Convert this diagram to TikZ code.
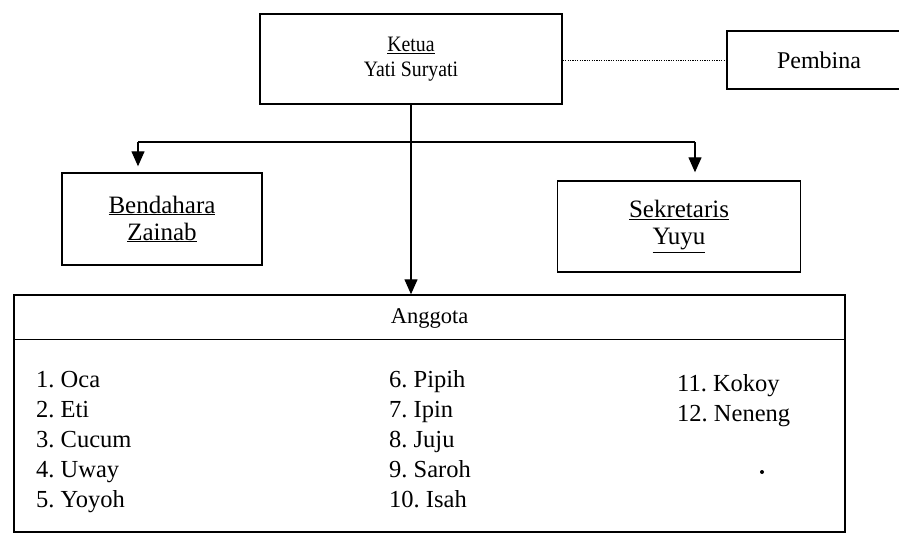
\documentclass[tikz,border=0pt]{standalone}
\usepackage{fontspec}
\setmainfont{Liberation Serif}
\newfontfamily\narrowserif{Liberation Serif}[FakeStretch=0.9]
\usetikzlibrary{arrows.meta}
\begin{document}
\frenchspacing
\begin{tikzpicture}[x=1pt,y=-1pt,
  box/.style={draw, line width=1.4pt, inner sep=0pt, align=center},
  lbl/.style={font=\fontsize{25}{27}\selectfont},
  item/.style={anchor=base west, inner sep=0pt, font=\fontsize{24.5}{27}\selectfont},
  arr/.style={line width=1.3pt, -{Triangle[width=13pt,length=15pt]}},
  link/.style={line width=1.3pt},
  dotline/.style={line width=0.8pt, dash pattern=on 1.2pt off 1.2pt}]
\useasboundingbox (0,0) rectangle (899,537);

\node[box, font=\narrowserif\fontsize{22}{25}\selectfont, minimum width=302pt, minimum height=90pt] (ketua) at (411,59) {\underline{Ketua}\\Yati Suryati};
\node[box, font=\fontsize{24}{27}\selectfont, minimum width=184pt, minimum height=58pt] (pembina) at (819,60) {Pembina};
\node[box, lbl, minimum width=200pt, minimum height=92pt] (bendahara) at (162,219) {\underline{Bendahara}\\\underline{Zainab}};
\node[box, lbl, minimum width=243pt, minimum height=91pt] (sekretaris) at (679,226.5) {\underline{Sekretaris}\\\underline{Yuyu}};
\node[box, minimum width=831pt, minimum height=237pt] (anggota) at (429.5,413.5) {};
\draw[link] ([yshift=-45pt]anggota.north west) -- ([yshift=-45pt]anggota.north east);
\node[font=\fontsize{22.5}{26}\selectfont] (anggotalbl) at (429.5,319) {Anggota};

\node[item] (m1) at (36,387) {1. Oca};
\node[item] (m2) at (36,417) {2. Eti};
\node[item] (m3) at (36,447) {3. Cucum};
\node[item] (m4) at (36,477) {4. Uway};
\node[item] (m5) at (36,507) {5. Yoyoh};
\node[item] (m6) at (389,387) {6. Pipih};
\node[item] (m7) at (389,417) {7. Ipin};
\node[item] (m8) at (389,447) {8. Juju};
\node[item] (m9) at (389,477) {9. Saroh};
\node[item] (m10) at (389,507) {10. Isah};
\node[item] (m11) at (677,391) {11. Kokoy};
\node[item] (m12) at (677,421) {12. Neneng};
\fill (762,472) circle (2pt);

\coordinate (hl) at (138,142);
\coordinate (hr) at (695,142);
\draw[link] (hl) -- (hr);
\draw[arr, shorten >=6pt] (hl) -- (hl |- bendahara.north);
\draw[arr, shorten >=8pt] (hr) -- (hr |- sekretaris.north);
\draw[arr] (ketua.south) -- (ketua.south |- anggota.north);
\draw[dotline] (ketua.east |- pembina.west) -- (pembina.west);
\end{tikzpicture}
\end{document}
